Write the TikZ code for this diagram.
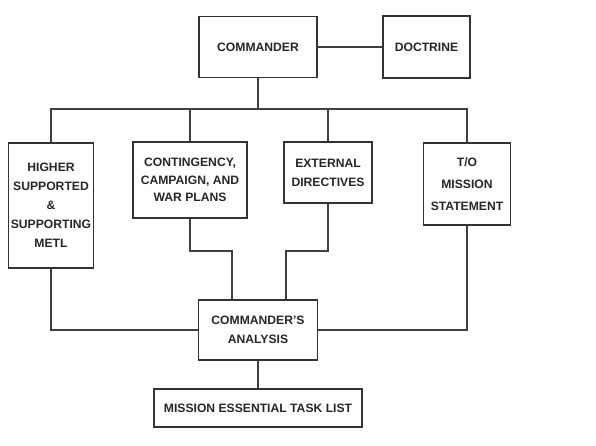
\documentclass[tikz,border=0pt]{standalone}
\usepackage{fontspec}
\setmainfont{Liberation Sans}
\usepackage{tikz}

\begin{document}
\begin{tikzpicture}[
        x=1bp, y=-1bp,
        font=\fontsize{12.2}{19}\selectfont\bfseries,
        box/.style={rectangle, draw=black!80, line width=1.3pt, inner sep=0pt, text centered, align=center, text=black!85},
        link/.style={draw=black!75, line width=1.3pt}
    ]
        \useasboundingbox (0,0) rectangle (596,446);

        % --- Top row ---
        \node (cmdr) [box, minimum width=118bp, minimum height=61bp] at (258,47) {COMMANDER};
        \node (doctrine) [box, minimum width=87bp, minimum height=62bp] at (426.5,47) {DOCTRINE};

        % --- Inputs ---
        \node (higher) [box, minimum width=85bp, minimum height=125bp] at (51,205.5) {HIGHER\\SUPPORTED\\\&\\SUPPORTING\\METL};
        \node (plans) [box, minimum width=114bp, minimum height=76bp, font=\fontsize{12.2}{17.5}\selectfont\bfseries] at (190,180) {CONTINGENCY,\\CAMPAIGN, AND\\WAR PLANS};
        \node (extdir) [box, minimum width=88bp, minimum height=61bp] at (328,172.5) {EXTERNAL\\DIRECTIVES};
        \node (tomission) [box, minimum width=87bp, minimum height=82bp, font=\fontsize{12.2}{22}\selectfont\bfseries] at (467,184) {T/O\\MISSION\\STATEMENT};

        % --- Analysis and result ---
        \node (analysis) [box, minimum width=119bp, minimum height=60bp] at (258,330) {COMMANDER'S\\ANALYSIS};
        \node (metl) [box, minimum width=208bp, minimum height=38bp] at (258,408) {MISSION ESSENTIAL TASK LIST};

        \coordinate (bus) at (258,109);
        \coordinate (jog) at (0,251);

        % --- Connections ---
        \draw [link] (cmdr.east) -- (doctrine.west);
        \draw [link] (cmdr.south) -- (bus);
        \draw [link] (higher.north) -- (higher.north |- bus) -- (tomission.north |- bus) -- (tomission.north);
        \draw [link] (plans.north) -- (plans.north |- bus);
        \draw [link] (extdir.north) -- (extdir.north |- bus);

        \draw [link] (plans.south) |- ([xshift=-26bp]analysis.north |- jog) -- ([xshift=-26bp]analysis.north);
        \draw [link] (extdir.south) |- ([xshift=28bp]analysis.north |- jog) -- ([xshift=28bp]analysis.north);
        \draw [link] (higher.south) |- (analysis.west);
        \draw [link] (tomission.south) |- (analysis.east);
        \draw [link] (analysis.south) -- (metl.north);

    \end{tikzpicture}
\end{document}
